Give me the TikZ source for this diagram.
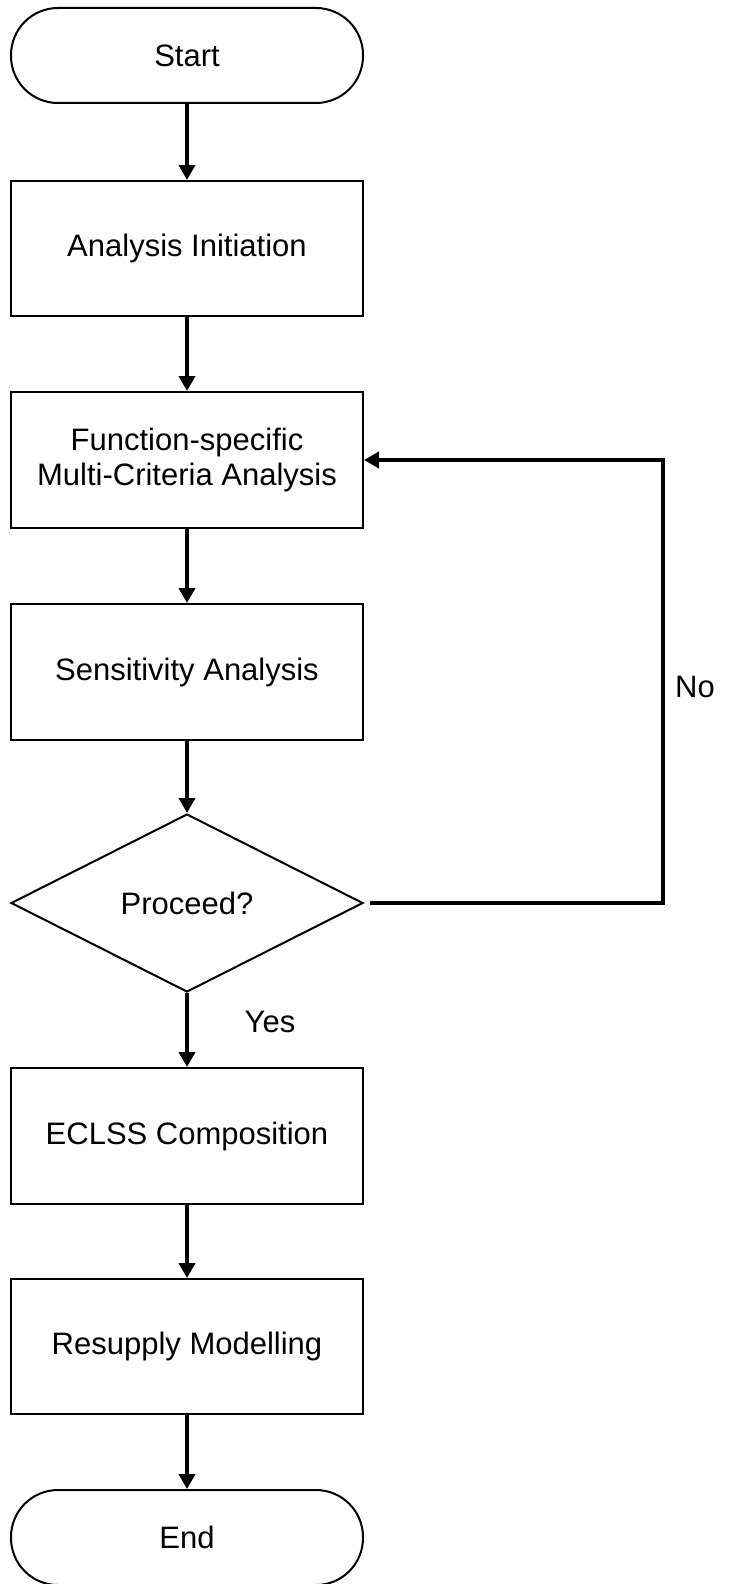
\documentclass[tikz,border=0pt]{standalone}
\usepackage{fontspec}
\setmainfont{Liberation Sans}
\usetikzlibrary{shapes.geometric,arrows.meta}
\begin{document}
\begin{tikzpicture}[x=1pt,y=-1pt,
  txt/.style={font=\fontsize{31}{35}\selectfont, align=center, text=black},
  procbox/.style={txt, draw=black, line width=2pt, rectangle, minimum width=352pt, minimum height=136pt, inner sep=0pt},
  termbox/.style={txt, draw=black, line width=2pt, rectangle, rounded corners=47pt, minimum width=352pt, minimum height=95pt, inner sep=0pt},
  decbox/.style={txt, draw=black, line width=2pt, diamond, minimum width=352pt, minimum height=178pt, inner sep=0pt},
  arr/.style={draw=black, line width=4.3pt, -{Triangle[length=15pt,width=16pt]}},
  lbl/.style={txt}
]
\useasboundingbox (0,0) rectangle (753,1584);
\node[termbox] (start) at (187,55.5) {Start};
\node[procbox, minimum height=135pt] (ai) at (187,248.5) {Analysis Initiation};
\node[procbox] (fs) at (187,460) {Function-specific\\Multi-Criteria Analysis};
\node[procbox] (sa) at (187,672) {Sensitivity Analysis};
\node[decbox] (dec) at (187,903) {Proceed?};
\node[procbox] (ec) at (187,1136) {ECLSS Composition};
\node[procbox, minimum height=135pt] (rm) at (187,1346.5) {Resupply Modelling};
\node[termbox] (end) at (187,1537.5) {End};
\coordinate (corner) at (663,903);
\node[lbl] (yes) at (270,1022) {Yes};
\node[lbl] (no) at (695,687) {No};
\draw[arr] (start) -- (ai);
\draw[arr] (ai) -- (fs);
\draw[arr] (fs) -- (sa);
\draw[arr] (sa) -- (dec);
\draw[arr] (dec) -- (ec);
\draw[arr] (ec) -- (rm);
\draw[arr] (rm) -- (end);
\draw[arr, shorten <=6pt] (dec.east) -- (corner) |- (fs.east);
\end{tikzpicture}
\end{document}
